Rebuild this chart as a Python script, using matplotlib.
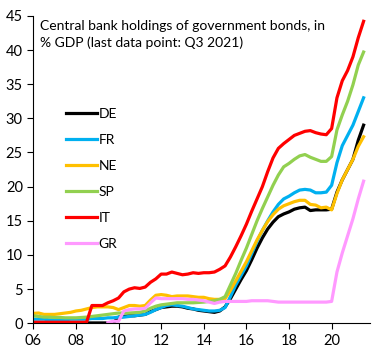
import numpy as np
import matplotlib
matplotlib.use("Agg")
import matplotlib.pyplot as plt

# quarterly, 2006 Q1 .. 2021 Q3
quarters = np.arange(2006, 2021.51, 0.25)

DE = [0.05, 0.05, 0.05, 0.05, 0.05, 0.05, 0.05, 0.05,
      0.05, 0.05, 0.05, 0.05, 0.05, 0.05, 0.05, 0.05,
      0.9, 1.0, 1.1, 1.1, 1.2, 1.3, 1.7, 2.0,
      2.3, 2.4, 2.5, 2.5, 2.4, 2.2, 2.1, 1.9,
      1.8, 1.7, 1.6, 1.8, 2.4, 3.6, 5.0, 6.4,
      7.7, 9.3, 11.0, 12.5, 13.8, 14.8, 15.6, 16.0,
      16.3, 16.7, 16.9, 17.0, 16.5, 16.6, 16.6, 16.6,
      16.7, 19.2, 21.0, 22.5, 24.0, 26.8, 29.0]
FR = [0.6, 0.6, 0.6, 0.5, 0.5, 0.5, 0.5, 0.6,
      0.6, 0.6, 0.6, 0.7, 0.7, 0.7, 0.8, 0.8,
      0.9, 0.9, 1.0, 1.1, 1.2, 1.3, 1.6, 2.0,
      2.3, 2.6, 2.7, 2.6, 2.5, 2.3, 2.1, 2.0,
      1.9, 1.8, 1.8, 1.9, 2.3, 3.9, 5.6, 7.0,
      8.4, 10.2, 12.0, 13.6, 15.0, 16.3, 17.4, 18.2,
      18.6, 19.1, 19.5, 19.6, 19.5, 19.1, 19.1, 19.2,
      20.2, 23.5, 26.0, 27.5, 29.0, 31.0, 33.0]
NE = [1.45, 1.5, 1.3, 1.3, 1.3, 1.4, 1.5, 1.6,
      1.8, 1.9, 2.1, 2.3, 2.4, 2.4, 2.4, 2.3,
      2.0, 2.3, 2.6, 2.6, 2.5, 2.6, 3.4, 4.1,
      4.2, 4.1, 3.9, 4.0, 4.0, 4.0, 3.9, 3.8,
      3.8, 3.6, 3.5, 3.5, 3.6, 4.8, 6.2, 7.6,
      9.0, 10.6, 12.2, 13.6, 14.9, 15.9, 16.7, 17.2,
      17.5, 17.8, 18.0, 18.0, 17.4, 17.3, 16.9, 17.0,
      16.6, 19.0, 21.0, 22.5, 24.0, 25.9, 27.3]
SP = [1.1, 1.0, 0.9, 0.9, 0.85, 0.85, 0.8, 0.8,
      0.8, 0.85, 0.9, 1.0, 1.1, 1.2, 1.3, 1.4,
      1.5, 1.5, 1.5, 1.55, 1.6, 1.8, 2.2, 2.5,
      2.7, 2.8, 2.9, 3.0, 3.0, 3.0, 3.0, 3.05,
      3.1, 3.2, 3.3, 3.5, 3.9, 5.6, 7.3, 9.2,
      11.0, 13.0, 15.0, 16.8, 18.5, 20.2, 21.7, 22.9,
      23.4, 24.0, 24.5, 24.7, 24.3, 24.0, 23.7, 23.7,
      24.4, 28.3, 30.5, 32.5, 34.9, 37.8, 39.7]
IT = [0.15, 0.15, 0.15, 0.15, 0.15, 0.15, 0.15, 0.15,
      0.15, 0.15, 0.15, 2.6, 2.6, 2.6, 3.0, 3.3,
      3.7, 4.6, 5.0, 5.2, 5.1, 5.3, 6.0, 6.5,
      7.2, 7.2, 7.5, 7.3, 7.1, 7.2, 7.4, 7.3,
      7.4, 7.4, 7.5, 7.9, 8.4, 9.7, 11.2, 12.8,
      14.5, 16.4, 18.2, 20.0, 22.2, 24.2, 25.6, 26.3,
      26.9, 27.5, 27.8, 28.1, 28.2, 27.9, 27.7, 27.6,
      28.5, 33.0, 35.5, 37.0, 39.0, 41.8, 44.2]
GR = [np.nan] * 14 + [
      0.1, 0.3, 0.3, 1.8, 2.0, 2.1, 2.1, 2.2,
      3.0, 3.7, 3.6, 3.6, 3.6, 3.6, 3.6, 3.5,
      3.5, 3.4, 3.3, 3.1, 2.9, 3.1, 3.2, 3.2,
      3.2, 3.2, 3.2, 3.3, 3.3, 3.3, 3.3, 3.2,
      3.1, 3.1, 3.1, 3.1, 3.1, 3.1, 3.1, 3.1,
      3.1, 3.1, 3.2, 7.5, 10.3, 12.8, 15.3, 18.2, 20.8]

series = [("DE", DE, "black"), ("FR", FR, "#00B0F0"), ("NE", NE, "#FFC000"),
          ("SP", SP, "#92D050"), ("IT", IT, "#FF0000"), ("GR", GR, "#FF99FF")]

plt.rcParams['font.family'] = ['Lato', 'DejaVu Sans']
plt.rcParams['font.size'] = 10

fig = plt.figure(figsize=(3.85, 3.6), dpi=100)
ax = fig.add_axes([0.0865, 0.102, 0.8745, 0.854])

for name, vals, col in series:
    ax.plot(quarters, vals, color=col, lw=2.3, label=name)

ax.set_xlim(2006, 2021.8)
ax.set_ylim(0, 45)
ax.set_yticks(range(0, 46, 5))
xt = list(range(2006, 2021, 2))
ax.set_xticks(xt)
ax.set_xticklabels([f"{y % 100:02d}" for y in xt])
ax.spines['top'].set_visible(False)
ax.spines['right'].set_visible(False)
ax.tick_params(direction='out', length=4, labelsize=10.5)

ax.text(0.02, 0.985, "Central bank holdings of government bonds, in\n% GDP (last data point: Q3 2021)",
        transform=ax.transAxes, va='top', ha='left', fontsize=10, linespacing=1.4)

ax.legend(loc='upper left', bbox_to_anchor=(0.06, 0.74), frameon=False,
          handlelength=2.2, labelspacing=1.0, handletextpad=0.15, fontsize=10)

fig.savefig("out.png", dpi=100)
